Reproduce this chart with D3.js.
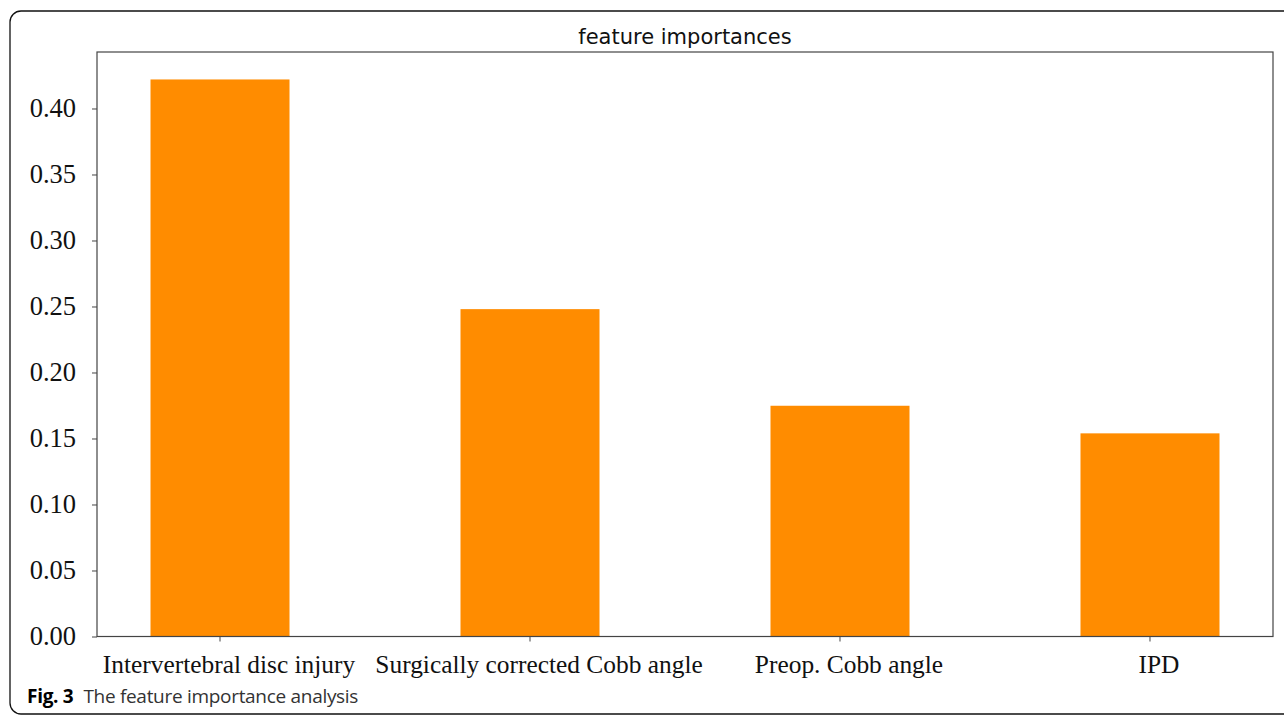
<!DOCTYPE html>
<html>
<head>
<meta charset="utf-8">
<script src="https://cdn.jsdelivr.net/npm/d3@7"></script>
<style>
  html, body { margin: 0; padding: 0; background: #fff; }
  svg { display: block; }
</style>
</head>
<body>
<svg id="chart" width="1284" height="715"></svg>
<script>
const categories = ["Intervertebral disc injury", "Surgically corrected Cobb angle", "Preop. Cobb angle", "IPD"];
const importances = [0.422, 0.248, 0.1748, 0.1539];
const yTickValues = [0, 0.05, 0.10, 0.15, 0.20, 0.25, 0.30, 0.35, 0.40];
const titleText = "feature importances";
const captionBold = "Fig. 3";
const captionText = "The feature importance analysis";

const svg = d3.select("#chart");

// outer rounded frame
svg.append("rect")
  .attr("x", 10).attr("y", 11)
  .attr("width", 1300).attr("height", 703)
  .attr("rx", 11).attr("ry", 11)
  .attr("fill", "none").attr("stroke", "#111").attr("stroke-width", 1.3);

const plot = { left: 97, right: 1273, top: 52, bottom: 636.5 };

const x = d3.scaleBand()
  .domain(categories)
  .range([plot.left, plot.right])
  .paddingInner(0.5516)
  .paddingOuter(0.1726);

const y = d3.scaleLinear()
  .domain([0, 0.4428])
  .range([plot.bottom, plot.top]);

// bars
svg.append("g").selectAll("rect")
  .data(categories)
  .join("rect")
  .attr("x", d => x(d))
  .attr("width", x.bandwidth())
  .attr("y", (d, i) => y(importances[i]))
  .attr("height", (d, i) => y(0) - y(importances[i]))
  .attr("fill", "#ff8c00");

// frame (spines)
svg.append("rect")
  .attr("x", plot.left).attr("y", plot.top)
  .attr("width", plot.right - plot.left)
  .attr("height", plot.bottom - plot.top)
  .attr("fill", "none").attr("stroke", "#444").attr("stroke-width", 1.2);

// y axis
const yAxis = d3.axisLeft(y)
  .tickValues(yTickValues)
  .tickFormat(d3.format(".2f"))
  .tickSize(5)
  .tickPadding(16);
const gy = svg.append("g").attr("transform", `translate(${plot.left},0)`).call(yAxis);
gy.select(".domain").remove();
gy.selectAll(".tick line").attr("stroke", "#444").attr("stroke-width", 1);
gy.selectAll(".tick text")
  .attr("font-family", "'Liberation Serif', 'Times New Roman', serif")
  .attr("font-size", 26.5)
  .attr("fill", "#111");

// x axis
const xAxis = d3.axisBottom(x).tickSize(5).tickPadding(13);
const gx = svg.append("g").attr("transform", `translate(0,${plot.bottom})`).call(xAxis);
gx.select(".domain").remove();
gx.selectAll(".tick line").attr("stroke", "#444").attr("stroke-width", 1);
gx.selectAll(".tick text")
  .attr("font-family", "'Liberation Serif', 'Times New Roman', serif")
  .attr("font-size", 25.4)
  .attr("fill", "#111")
  .attr("dx", 9);

// title
svg.append("text")
  .attr("x", (plot.left + plot.right) / 2)
  .attr("y", 44)
  .attr("text-anchor", "middle")
  .attr("font-family", "'DejaVu Sans', sans-serif")
  .attr("font-size", 21)
  .attr("fill", "#111")
  .text(titleText);

// caption
const cap = svg.append("text")
  .attr("x", 27).attr("y", 703)
  .attr("font-family", "'Open Sans', 'Noto Sans', sans-serif")
  .attr("font-size", 19)
  .attr("letter-spacing", -0.3)
  .attr("fill", "#222");
cap.append("tspan").attr("font-weight", "bold").attr("fill", "#000").text(captionBold);
cap.append("tspan").attr("dx", 10).attr("fill", "#333").text(captionText);
</script>
</body>
</html>
